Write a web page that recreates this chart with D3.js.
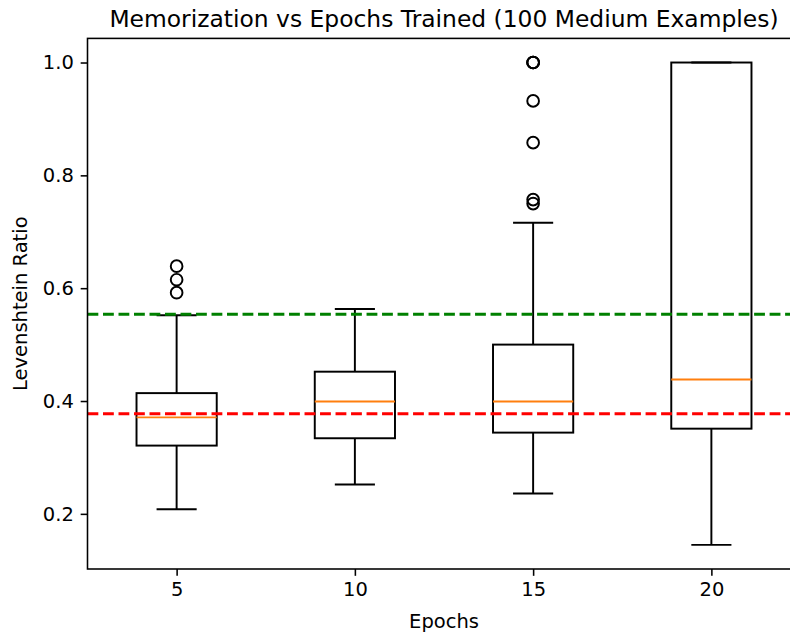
<!DOCTYPE html>
<html>
<head>
<meta charset="utf-8">
<script src="https://cdn.jsdelivr.net/npm/d3@7"></script>
<style>
  html, body { margin: 0; padding: 0; background: #fff; }
  svg { display: block; font-family: "DejaVu Sans", sans-serif; }
</style>
</head>
<body>
<div id="chart"></div>
<script>
const EPOCHS = [5, 10, 15, 20];
const WHISKER_LOW = [0.208, 0.252, 0.236, 0.145];
const Q1 = [0.321, 0.334, 0.344, 0.351];
const MEDIAN = [0.371, 0.399, 0.399, 0.438];
const Q3 = [0.414, 0.452, 0.500, 1.000];
const WHISKER_HIGH = [0.552, 0.563, 0.716, 1.000];
const OUTLIERS = [
  [0.639, 0.615, 0.592],
  [],
  [1.0, 1.0, 1.0, 0.932, 0.858, 0.757, 0.750],
  []
];
const REF_LINES = [
  { value: 0.5537, color: "#008000" },
  { value: 0.3775, color: "#ff0000" }
];
const Y_TICKS = [0.2, 0.4, 0.6, 0.8, 1.0];

(() => {
  const width = 790, height = 632;
  const pt = 1.95; // px per matplotlib point
  const margin = { left: 87.5, right: 800.5, top: 38.4, bottom: 569 };

  const boxes = EPOCHS.map((e, i) => ({
    pos: i + 1, epoch: e,
    lo: WHISKER_LOW[i], q1: Q1[i], med: MEDIAN[i], q3: Q3[i], hi: WHISKER_HIGH[i],
    fliers: OUTLIERS[i]
  }));

  const allVals = boxes.flatMap((b) => [b.lo, b.hi, ...b.fliers]);
  const vmin = d3.min(allVals), vmax = d3.max(allVals);
  const pad = (vmax - vmin) * 0.05;

  const x = d3.scaleLinear().domain([0.5, 4.5]).range([margin.left, margin.right]);
  const y = d3.scaleLinear().domain([vmin - pad, vmax + pad]).range([margin.bottom, margin.top]);

  const svg = d3.select("#chart").append("svg")
    .attr("width", width).attr("height", height)
    .attr("viewBox", `0 0 ${width} ${height}`);

  svg.append("defs").append("clipPath").attr("id", "plot-clip")
    .append("rect")
    .attr("x", margin.left).attr("y", margin.top)
    .attr("width", margin.right - margin.left).attr("height", margin.bottom - margin.top);

  const plot = svg.append("g").attr("clip-path", "url(#plot-clip)");

  const boxW = 0.45, capW = boxW / 2;
  const lw = 1 * pt;

  const g = plot.selectAll("g.box").data(boxes).join("g").attr("class", "box");

  // whiskers
  g.append("line")
    .attr("x1", (d) => x(d.pos)).attr("x2", (d) => x(d.pos))
    .attr("y1", (d) => y(d.q1)).attr("y2", (d) => y(d.lo))
    .attr("stroke", "#000").attr("stroke-width", lw);
  g.append("line")
    .attr("x1", (d) => x(d.pos)).attr("x2", (d) => x(d.pos))
    .attr("y1", (d) => y(d.q3)).attr("y2", (d) => y(d.hi))
    .attr("stroke", "#000").attr("stroke-width", lw);
  // caps
  ["lo", "hi"].forEach((k) => {
    g.append("line")
      .attr("x1", (d) => x(d.pos - capW / 2)).attr("x2", (d) => x(d.pos + capW / 2))
      .attr("y1", (d) => y(d[k])).attr("y2", (d) => y(d[k]))
      .attr("stroke", "#000").attr("stroke-width", lw);
  });
  // box
  g.append("rect")
    .attr("x", (d) => x(d.pos - boxW / 2))
    .attr("width", (d) => x(d.pos + boxW / 2) - x(d.pos - boxW / 2))
    .attr("y", (d) => y(d.q3))
    .attr("height", (d) => y(d.q1) - y(d.q3))
    .attr("fill", "none").attr("stroke", "#000").attr("stroke-width", lw);
  // median
  g.append("line")
    .attr("x1", (d) => x(d.pos - boxW / 2)).attr("x2", (d) => x(d.pos + boxW / 2))
    .attr("y1", (d) => y(d.med)).attr("y2", (d) => y(d.med))
    .attr("stroke", "#ff7f0e").attr("stroke-width", lw);
  // fliers
  g.selectAll("circle")
    .data((d) => d.fliers.map((v) => ({ pos: d.pos, v })))
    .join("circle")
    .attr("cx", (d) => x(d.pos)).attr("cy", (d) => y(d.v))
    .attr("r", 3 * pt)
    .attr("fill", "none").attr("stroke", "#000").attr("stroke-width", lw);

  // reference lines
  plot.selectAll("line.ref").data(REF_LINES).join("line").attr("class", "ref")
    .attr("x1", margin.left).attr("x2", margin.right)
    .attr("y1", (d) => y(d.value)).attr("y2", (d) => y(d.value))
    .attr("stroke", (d) => d.color)
    .attr("stroke-width", 1.5 * pt)
    .attr("stroke-dasharray", `${3.7 * 1.5 * pt} ${1.6 * 1.5 * pt}`);

  // axes
  const fontSize = 10 * pt;
  const tickLen = 3.5 * pt, tickPad = 3.5 * pt;

  const yAxis = svg.append("g")
    .attr("transform", `translate(${margin.left},0)`)
    .call(d3.axisLeft(y).tickValues(Y_TICKS).tickFormat(d3.format(".1f"))
      .tickSize(tickLen).tickPadding(tickPad));
  const xAxis = svg.append("g")
    .attr("transform", `translate(0,${margin.bottom})`)
    .call(d3.axisBottom(x).tickValues(boxes.map((b) => b.pos)).tickFormat((d, i) => EPOCHS[i])
      .tickSize(tickLen).tickPadding(tickPad));

  [xAxis, yAxis].forEach((ax) => {
    ax.select(".domain").remove();
    ax.selectAll("line").attr("stroke", "#000").attr("stroke-width", 0.8 * pt);
    ax.selectAll("text").attr("fill", "#000").attr("font-size", fontSize)
      .attr("font-family", "DejaVu Sans");
  });

  // spines
  svg.append("rect")
    .attr("x", margin.left).attr("y", margin.top)
    .attr("width", margin.right - margin.left).attr("height", margin.bottom - margin.top)
    .attr("fill", "none").attr("stroke", "#000").attr("stroke-width", 0.8 * pt);

  const cx = (margin.left + margin.right) / 2;

  svg.append("text")
    .attr("x", cx).attr("y", margin.top - 6 * pt)
    .attr("text-anchor", "middle").attr("font-size", 12 * pt)
    .text("Memorization vs Epochs Trained (100 Medium Examples)");

  svg.append("text")
    .attr("x", cx).attr("y", 628)
    .attr("text-anchor", "middle").attr("font-size", fontSize)
    .text("Epochs");

  svg.append("text")
    .attr("transform", `translate(27,${(margin.top + margin.bottom) / 2}) rotate(-90)`)
    .attr("text-anchor", "middle").attr("font-size", fontSize)
    .text("Levenshtein Ratio");
})();
</script>
</body>
</html>
